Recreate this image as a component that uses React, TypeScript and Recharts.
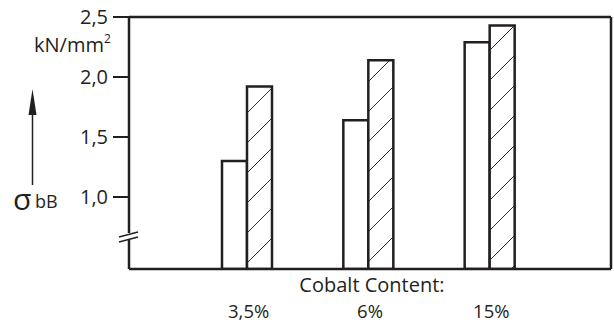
import React from 'react';
import { BarChart, Bar, XAxis, YAxis, ReferenceLine } from 'recharts';

const categories = ['3,5%', '6%', '15%'];
const plainValues = [1.3, 1.64, 2.29];
const hatchedValues = [1.92, 2.14, 2.43];
const yTicks = [1.0, 1.5, 2.0, 2.5];

const data = categories.map((c, i) => ({ cat: c, plain: plainValues[i], hatched: hatchedValues[i] }));

const INK = '#231f20';
const FONT = '"Open Sans", sans-serif';

const XTick = (props: any) => {
  const { x, y, payload } = props;
  return (
    <text x={x + 2} y={y + 48.5} textAnchor="middle" fontFamily={FONT} fontSize={18.5} fill={INK}>
      {payload.value}
    </text>
  );
};

export default function App() {
  return (
    <div style={{ position: 'absolute', left: 0, top: 0, width: 614, height: 323, background: '#fff' }}>
      <BarChart
        width={614}
        height={323}
        data={data}
        margin={{ top: 17, right: 2, bottom: 0, left: 0 }}
        barGap={0}
        barSize={25}
      >
        <defs>
          <pattern id="hatch" patternUnits="userSpaceOnUse" width="30" height="30">
            <rect x="0" y="0" width="30" height="30" fill="#fff" />
            <path d="M0,30 L30,0 M-5,5 L5,-5 M25,35 L35,25" stroke="#333" strokeWidth="1" />
          </pattern>
        </defs>
        <XAxis
          dataKey="cat"
          height={54}
          padding={{ left: 57, right: 61 }}
          axisLine={{ stroke: INK, strokeWidth: 2.5 }}
          tickLine={false}
          tickSize={0}
          tickMargin={0}
          tick={<XTick />}
          interval={0}
        />
        <YAxis
          width={129}
          domain={[0.4, 2.5]}
          ticks={yTicks}
          allowDataOverflow
          axisLine={{ stroke: INK, strokeWidth: 2.5 }}
          tickLine={{ stroke: INK, strokeWidth: 2 }}
          tickSize={16}
          tickMargin={5}
          tick={{ fontFamily: FONT, fontSize: 20, fill: INK }}
          tickFormatter={(v: number) => v.toFixed(1).replace('.', ',')}
        />
        <YAxis
          yAxisId="right"
          orientation="right"
          width={1}
          domain={[0.4, 2.5]}
          allowDataOverflow
          axisLine={{ stroke: INK, strokeWidth: 2.5 }}
          tickLine={false}
          tick={false}
        />
        <ReferenceLine y={2.5} stroke={INK} strokeWidth={2.5} />
        <Bar dataKey="plain" fill="#ffffff" stroke={INK} strokeWidth={2.5} isAnimationActive={false} />
        <Bar dataKey="hatched" fill="url(#hatch)" stroke={INK} strokeWidth={2.5} isAnimationActive={false} />
      </BarChart>
      <svg
        width={614}
        height={323}
        style={{ position: 'absolute', left: 0, top: 0, pointerEvents: 'none' }}
      >
        <text x={34} y={52} fontFamily={FONT} fontSize={20} fill={INK}>
          kN/mm<tspan fontSize={12} dy={-9}>2</tspan>
        </text>
        <line x1={32.5} y1={112} x2={32.5} y2={185} stroke={INK} strokeWidth={1.5} />
        <polygon points="32.5,89 28.5,115 36.5,115" fill={INK} />
        <text x={13} y={210} fontFamily={FONT} fontSize={30} fill={INK}>σ</text>
        <text x={35} y={208} fontFamily={FONT} fontSize={18} fill={INK}>bB</text>
        <rect x={124} y={233} width={11} height={6} fill="#fff" />
        <line x1={119} y1={237} x2={138} y2={232} stroke={INK} strokeWidth={1.5} />
        <line x1={119} y1={242} x2={138} y2={237} stroke={INK} strokeWidth={1.5} />
        <text x={372} y={292} textAnchor="middle" fontFamily={FONT} fontSize={20} fill={INK}>
          Cobalt Content:
        </text>
      </svg>
    </div>
  );
}
